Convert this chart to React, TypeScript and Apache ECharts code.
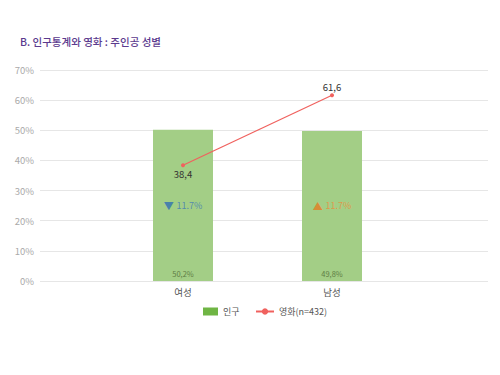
import React, { useEffect, useRef } from "react";
import * as echarts from "echarts";

const categories = ["여성", "남성"];
const populationShare = [50.2, 49.8];
const movieShare = [38.4, 61.6];
const gapValues = [-11.7, 11.7];
const gapLabelLevel = 25;
const yTicks = { min: 0, max: 70, interval: 10 };
const titleText = "B. 인구통계와 영화 : 주인공 성별";
const barName = "인구";
const lineName = "영화(n=432)";

const comma = (v: number) => String(v.toFixed(1)).replace(".", ",");
const FONT = "'Noto Sans CJK KR', 'Noto Sans', sans-serif";

export default function App() {
  const ref = useRef<HTMLDivElement>(null);
  useEffect(() => {
    document.body.style.margin = "0";
    const chart = echarts.init(ref.current!, null, { renderer: "svg" });
    const legendText = { color: "#555", fontSize: 9 };
    chart.setOption({
      animation: false,
      textStyle: { fontFamily: FONT },
      title: {
        text: titleText,
        left: 15,
        top: 31,
        textStyle: { color: "#5b3a8e", fontSize: 10.5, fontWeight: 500, fontFamily: FONT },
      },
      legend: [
        {
          left: 203,
          top: 307,
          padding: 0,
          itemWidth: 15,
          itemHeight: 8,
          textStyle: legendText,
          data: [{ name: barName, icon: "rect", itemStyle: { color: "#6fb544" } }],
        },
        {
          left: 255,
          top: 307,
          padding: 0,
          itemWidth: 18,
          itemHeight: 8,
          textStyle: legendText,
          data: [{ name: lineName }],
        },
      ],
      grid: [
        { left: 40, right: 12, top: 70, bottom: 94 },
        { left: 108.5, right: 93.5, top: 70, bottom: 94 },
      ],
      xAxis: [
        { type: "category", gridIndex: 0, data: [], show: false },
        {
          type: "category",
          gridIndex: 1,
          data: categories,
          axisLine: { show: false },
          axisTick: { show: false },
          axisLabel: { color: "#555", fontSize: 9.5, margin: 6 },
        },
      ],
      yAxis: [
        {
          type: "value",
          gridIndex: 0,
          ...yTicks,
          axisLine: { show: false },
          axisTick: { show: false },
          axisLabel: { color: "#aaa", fontSize: 9.5, formatter: "{value}%", margin: 6 },
          splitLine: { lineStyle: { color: "#e6e6e6" } },
        },
        {
          type: "value",
          gridIndex: 1,
          ...yTicks,
          show: false,
          splitLine: { show: false },
        },
      ],
      series: [
        {
          name: barName,
          type: "bar",
          xAxisIndex: 1,
          yAxisIndex: 1,
          data: populationShare,
          barWidth: 60,
          itemStyle: { color: "#a3ce86" },
          label: {
            show: true,
            position: "insideBottom",
            distance: 4,
            color: "#5f7d45",
            fontSize: 7.5,
            formatter: (p: any) => comma(p.value) + "%",
          },
        },
        {
          name: lineName,
          type: "line",
          xAxisIndex: 1,
          yAxisIndex: 1,
          data: movieShare.map((v, i) => ({
            value: v,
            label: { position: i === 0 ? "bottom" : "top" },
          })),
          symbol: "circle",
          symbolSize: 4,
          lineStyle: { color: "#f0615e", width: 1.2 },
          itemStyle: { color: "#f0615e" },
          label: {
            show: true,
            color: "#333",
            fontSize: 9.5,
            distance: 2,
            formatter: (p: any) => comma(p.value),
          },
          z: 5,
        },
        {
          name: "gap",
          type: "scatter",
          xAxisIndex: 1,
          yAxisIndex: 1,
          symbolSize: 0,
          silent: true,
          data: gapValues.map((g) => ({
            value: gapLabelLevel,
            label: {
              show: true,
              position: "inside",
              formatter:
                g < 0
                  ? `{d|▼} {bt|${Math.abs(g).toFixed(1)}%}`
                  : `{u|▲} {ot|${Math.abs(g).toFixed(1)}%}`,
              rich: {
                d: { color: "#2f6db5", fontSize: 10 },
                bt: { color: "#3d78b8", fontSize: 9 },
                u: { color: "#e87b22", fontSize: 10 },
                ot: { color: "#ee8a3a", fontSize: 9 },
              },
            },
          })),
        },
      ],
    });
    return () => chart.dispose();
  }, []);
  return <div ref={ref} style={{ width: 500, height: 375 }} />;
}
